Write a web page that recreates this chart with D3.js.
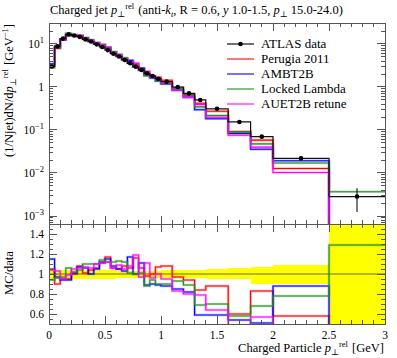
<!DOCTYPE html>
<html><head><meta charset="utf-8">
<script src="https://cdn.jsdelivr.net/npm/d3@7"></script>
<style>body{margin:0;background:#fff}svg{display:block}text{font-family:"Liberation Serif","DejaVu Serif",serif;fill:#000}</style>
</head><body><svg id="c" width="397" height="358"></svg>
<script>
// ---- data ----
const binEdges = [0,0.05,0.1,0.15,0.2,0.25,0.3,0.35,0.4,0.45,0.5,0.55,0.6,0.65,0.7,0.75,0.8,0.85,0.9,0.95,1.0,1.1,1.2,1.3,1.4,1.6,1.8,2.0,2.5,3.0];
const atlasData = [3.0,8.8,13.3,16.7,15.7,14.6,12.8,11.4,9.8,8.5,7.2,5.95,5.1,4.25,3.56,2.97,2.49,2.08,1.80,1.56,1.33,1.0,0.71,0.50,0.31,0.154,0.070,0.0219,0.00283];
const dataErrUp   = [0.04,0.04,0.04,0.04,0.04,0.04,0.04,0.04,0.04,0.04,0.04,0.04,0.035,0.035,0.035,0.035,0.035,0.035,0.035,0.035,0.045,0.045,0.045,0.045,0.05,0.065,0.075,0.095,0.56];
const dataErrDown = [0.05,0.05,0.05,0.05,0.05,0.05,0.05,0.05,0.05,0.05,0.05,0.05,0.035,0.035,0.035,0.035,0.035,0.035,0.035,0.035,0.04,0.04,0.04,0.04,0.05,0.045,0.10,0.10,0.56];
const perugiaRatio = [1.05,0.90,0.95,0.95,1.00,1.08,1.01,1.04,1.06,1.11,1.17,1.06,1.05,1.08,1.06,1.16,1.06,0.98,1.00,1.07,1.08,0.97,0.94,0.84,0.88,0.60,0.83,0.58,0];
const ambt2bRatio  = [1.15,0.97,0.94,0.94,1.01,1.07,1.06,1.00,1.05,1.12,1.15,1.08,1.05,1.03,1.17,1.00,1.11,0.89,0.90,0.89,0.88,0.85,0.82,0.59,0.59,0.54,0.51,0.88,0];
const lockedRatio  = [0.94,0.96,0.97,1.06,1.02,1.04,1.10,1.10,1.10,1.14,1.12,1.12,1.13,1.12,1.01,1.00,1.01,0.88,0.94,0.90,0.90,0.93,0.89,0.69,0.70,0.58,0.68,0.78,1.29];
const auet2bRatio  = [1.04,1.03,0.95,0.99,1.05,1.06,1.07,1.06,1.10,1.11,1.12,1.06,1.09,1.05,1.08,1.19,0.97,1.11,0.96,1.00,0.95,0.83,0.80,0.79,0.64,0.49,0.57,0.47,0];
const seriesNames = ["Perugia 2011","AMBT2B","Locked Lambda","AUET2B retune"];
const seriesColors = ["#ff0000","#0000ff","#1f8f1f","#ff00ff"];
const seriesRatios = [perugiaRatio, ambt2bRatio, lockedRatio, auet2bRatio];
const xTicks = [0,0.5,1,1.5,2,2.5,3];
const ratioTicks = [0.6,0.8,1,1.2,1.4];

// ---- layout ----
const svg = d3.select("#c");
const L=49, R=385, T=23, M=224, B=324;
const x = d3.scaleLinear().domain([0,3]).range([L,R]);
const y = d3.scaleLog().domain([Math.pow(10,-3.186), Math.pow(10,1.488)]).range([M,T]);
const yr = d3.scaleLinear().domain([0.5,1.5]).range([B,M]);
const yTop = v => v>0 ? y(v) : M+500;

const defs = svg.append("defs");
defs.append("clipPath").attr("id","cpT").append("rect").attr("x",L).attr("y",T).attr("width",R-L).attr("height",M-T);
defs.append("clipPath").attr("id","cpR").append("rect").attr("x",L).attr("y",M).attr("width",R-L).attr("height",B-M);

const bins = atlasData.map((v,i)=>({x0:binEdges[i],x1:binEdges[i+1],v,i}));

function stepPath(vals, fy){
  let p="";
  vals.forEach((v,i)=>{
    const x0=x(binEdges[i]), x1=x(binEdges[i+1]), yy=fy(v);
    p += (i===0? "M":"L")+x0+","+yy+"L"+x1+","+yy;
  });
  return p;
}

// ---- ratio panel ----
const gR = svg.append("g").attr("clip-path","url(#cpR)");
gR.selectAll("rect.band").data(bins).join("rect")
  .attr("x",d=>x(d.x0)).attr("width",d=>x(d.x1)-x(d.x0))
  .attr("y",d=>yr(1+dataErrUp[d.i])).attr("height",d=>yr(1-dataErrDown[d.i])-yr(1+dataErrUp[d.i]))
  .attr("fill","#ffff00").attr("shape-rendering","crispEdges");
gR.append("line").attr("x1",L).attr("x2",R).attr("y1",yr(1)).attr("y2",yr(1)).attr("stroke","#444").attr("stroke-width",0.8);
seriesRatios.forEach((r,k)=>{
  const p = stepPath(r, v=>yr(v));
  gR.append("path").attr("d",p).attr("fill","none").attr("stroke",seriesColors[k]).attr("stroke-opacity",0.3).attr("stroke-width",2.6);
  gR.append("path").attr("d",p).attr("fill","none").attr("stroke",seriesColors[k]).attr("stroke-width",1.1);
});

// ---- top panel ----
const gT = svg.append("g").attr("clip-path","url(#cpT)");
seriesRatios.forEach((r,k)=>{
  const p = stepPath(r.map((v,i)=>v*atlasData[i]), yTop);
  gT.append("path").attr("d",p).attr("fill","none").attr("stroke",seriesColors[k]).attr("stroke-opacity",0.3).attr("stroke-width",2.6);
  gT.append("path").attr("d",p).attr("fill","none").attr("stroke",seriesColors[k]).attr("stroke-width",1.1);
});
gT.append("path").attr("d",stepPath(atlasData,yTop)).attr("fill","none").attr("stroke","#111").attr("stroke-width",1.2);
gT.selectAll("line.err").data(bins).join("line")
  .attr("x1",d=>x((d.x0+d.x1)/2)).attr("x2",d=>x((d.x0+d.x1)/2))
  .attr("y1",d=>y(d.v*(1+dataErrUp[d.i]))).attr("y2",d=>y(d.v*(1-dataErrDown[d.i])))
  .attr("stroke","#111").attr("stroke-width",1.1);
gT.selectAll("circle").data(bins).join("circle")
  .attr("cx",d=>x((d.x0+d.x1)/2)).attr("cy",d=>y(d.v)).attr("r",2.3).attr("fill","#000");

// ---- frames & ticks ----
const frameC="#555";
const fr = svg.append("g").attr("stroke",frameC).attr("fill","none").attr("stroke-width",1).attr("shape-rendering","crispEdges");
fr.append("rect").attr("x",L).attr("y",T).attr("width",R-L).attr("height",M-T);
fr.append("rect").attr("x",L).attr("y",M).attr("width",R-L).attr("height",B-M);
const minorX = d3.range(0,3.0001,0.1);
function xt(yy,dir){
  minorX.forEach(v=>{
    const major = Math.abs(v*2-Math.round(v*2))<1e-6;
    const len = major?8:4;
    fr.append("line").attr("x1",x(v)).attr("x2",x(v)).attr("y1",yy).attr("y2",yy+dir*len);
  });
}
xt(T,1); xt(M,-1); xt(M,1); xt(B,-1);
for(let e=-4;e<=1;e++){
  for(let m=1;m<10;m++){
    const v=m*Math.pow(10,e);
    if(v<y.domain()[0]||v>y.domain()[1]) continue;
    const len = m===1?8:4;
    fr.append("line").attr("x1",L).attr("x2",L+len).attr("y1",y(v)).attr("y2",y(v));
    fr.append("line").attr("x1",R).attr("x2",R-len).attr("y1",y(v)).attr("y2",y(v));
  }
}
d3.range(0.5,1.5001,0.05).forEach(v=>{
  const major = Math.abs(v*5-Math.round(v*5))<1e-6;
  const len = major?8:4;
  fr.append("line").attr("x1",L).attr("x2",L+len).attr("y1",yr(v)).attr("y2",yr(v));
  fr.append("line").attr("x1",R).attr("x2",R-len).attr("y1",yr(v)).attr("y2",yr(v));
});

// ---- labels ----
const fs=11.5, big=12.5, sm=8.5;
const logLabels=[1,0,-1,-2,-3];
logLabels.forEach(e=>{
  const t=svg.append("text").attr("x",44).attr("y",y(Math.pow(10,e))+4).attr("text-anchor","end").attr("font-size",fs);
  if(e===0){t.text("1");}
  else{t.append("tspan").text("10");t.append("tspan").attr("dy",-5).attr("font-size",sm).text(e<0?"\u2212"+(-e):String(e));}
});
ratioTicks.forEach(v=>{
  svg.append("text").attr("x",44).attr("y",yr(v)+4).attr("text-anchor","end").attr("font-size",fs).text(String(v));
});
xTicks.forEach(v=>{
  svg.append("text").attr("x",x(v)).attr("y",339).attr("text-anchor","middle").attr("font-size",fs).text(v);
});
function pPerp(t){
  t.append("tspan").attr("font-style","italic").text("p");
  t.append("tspan").attr("font-size",sm).attr("dy",3).text("\u22a5");
  t.append("tspan").attr("font-size",sm).attr("dy",-8).text("rel");
  t.append("tspan").attr("dy",5).text("\u200a");
}
// x title
const xtT = svg.append("text").attr("x",384).attr("y",352).attr("text-anchor","end").attr("font-size",big);
xtT.append("tspan").text("Charged Particle ");
pPerp(xtT);
xtT.append("tspan").text(" [GeV]");
// y title top
const ytT = svg.append("text").attr("transform","translate(13,24) rotate(-90)").attr("text-anchor","end").attr("font-size",big);
ytT.append("tspan").text("(1/Njet)dN/d");
pPerp(ytT);
ytT.append("tspan").text(" [GeV");
ytT.append("tspan").attr("font-size",sm).attr("dy",-5).text("\u22121");
ytT.append("tspan").attr("dy",5).text("]");
svg.append("text").attr("transform","translate(13,273) rotate(-90)").attr("text-anchor","middle").attr("font-size",big).text("MC/data");
// title
const tt = svg.append("text").attr("x",50).attr("y",14).attr("font-size",big);
tt.append("tspan").text("Charged jet ");
pPerp(tt);
tt.append("tspan").text(" (anti-");
tt.append("tspan").attr("font-style","italic").text("k");
tt.append("tspan").attr("font-style","italic").attr("font-size",sm).attr("dy",3).text("t");
tt.append("tspan").attr("dy",-3).text(", R = 0.6, ");
tt.append("tspan").attr("font-style","italic").text("y");
tt.append("tspan").text(" 1.0-1.5, ");
tt.append("tspan").attr("font-style","italic").text("p");
tt.append("tspan").attr("font-size",sm).attr("dy",3).text("\u22a5");
tt.append("tspan").attr("dy",-3).text(" 15.0-24.0)");

// legend
const lg = svg.append("g");
const legendItems = [{name:"ATLAS data",color:"#111",data:true}].concat(seriesNames.map((n,k)=>({name:n,color:seriesColors[k]})));
legendItems.forEach((d,i)=>{
  const yy = 44 + i*15;
  lg.append("line").attr("x1",227).attr("x2",254).attr("y1",yy).attr("y2",yy).attr("stroke",d.color).attr("stroke-width",d.data?1.2:1.1);
  if(d.data) lg.append("circle").attr("cx",240.5).attr("cy",yy).attr("r",2.3).attr("fill","#000");
  lg.append("text").attr("x",261).attr("y",yy+4).attr("font-size",big+0.5).text(d.name);
});
</script></body></html>
